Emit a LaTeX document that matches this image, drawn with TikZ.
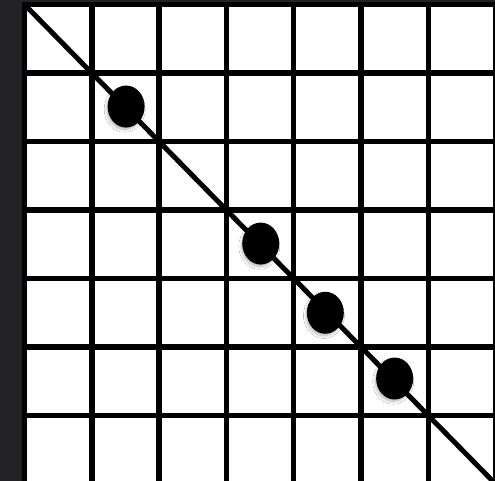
\documentclass[tikz,border=0pt]{standalone}
\usetikzlibrary{shapes.geometric,shadows.blur}
\definecolor{bgdark}{HTML}{232325}
\tikzset{
  gridline/.style={line width=5.5pt, black, line cap=rect},
  diagline/.style={line width=5pt, black, line cap=round},
  dot/.style={ellipse, fill=black, minimum width=37pt, minimum height=42pt, inner sep=0pt,
    blur shadow={shadow xshift=-1.5pt, shadow yshift=-3pt, shadow opacity=30, shadow blur radius=3pt, shadow blur steps=10, shadow scale=0.95}}
}
\begin{document}
\begin{tikzpicture}[x=1pt,y=-1pt]
\useasboundingbox (0,0) rectangle (495,481);
\clip (0,0) rectangle (495,481);
\fill[bgdark] (0,0) rectangle (495,481);
\fill[white] (24.5,4.5) rectangle (520,500);
\foreach \i in {0,...,7} {
  \draw[gridline] ({24.5+67.3*\i},4.5) -- ({24.5+67.3*\i},500);
  \draw[gridline] (24.5,{4.5+68.5*\i}) -- (520,{4.5+68.5*\i});
}
\coordinate (start) at (24.5,4.5);
\coordinate (end) at ({24.5+67.3*7.2},{4.5+68.5*7.2});
\draw[diagline] (start) -- (end);
\node[dot] (d1) at ({24.5+67.3*1.51},{4.5+68.5*1.49}) {};
\node[dot] (d2) at ({24.5+67.3*3.51},{4.5+68.5*3.49}) {};
\node[dot] (d3) at ({24.5+67.3*4.47},{4.5+68.5*4.50}) {};
\node[dot] (d4) at ({24.5+67.3*5.50},{4.5+68.5*5.46}) {};
\end{tikzpicture}
\end{document}
